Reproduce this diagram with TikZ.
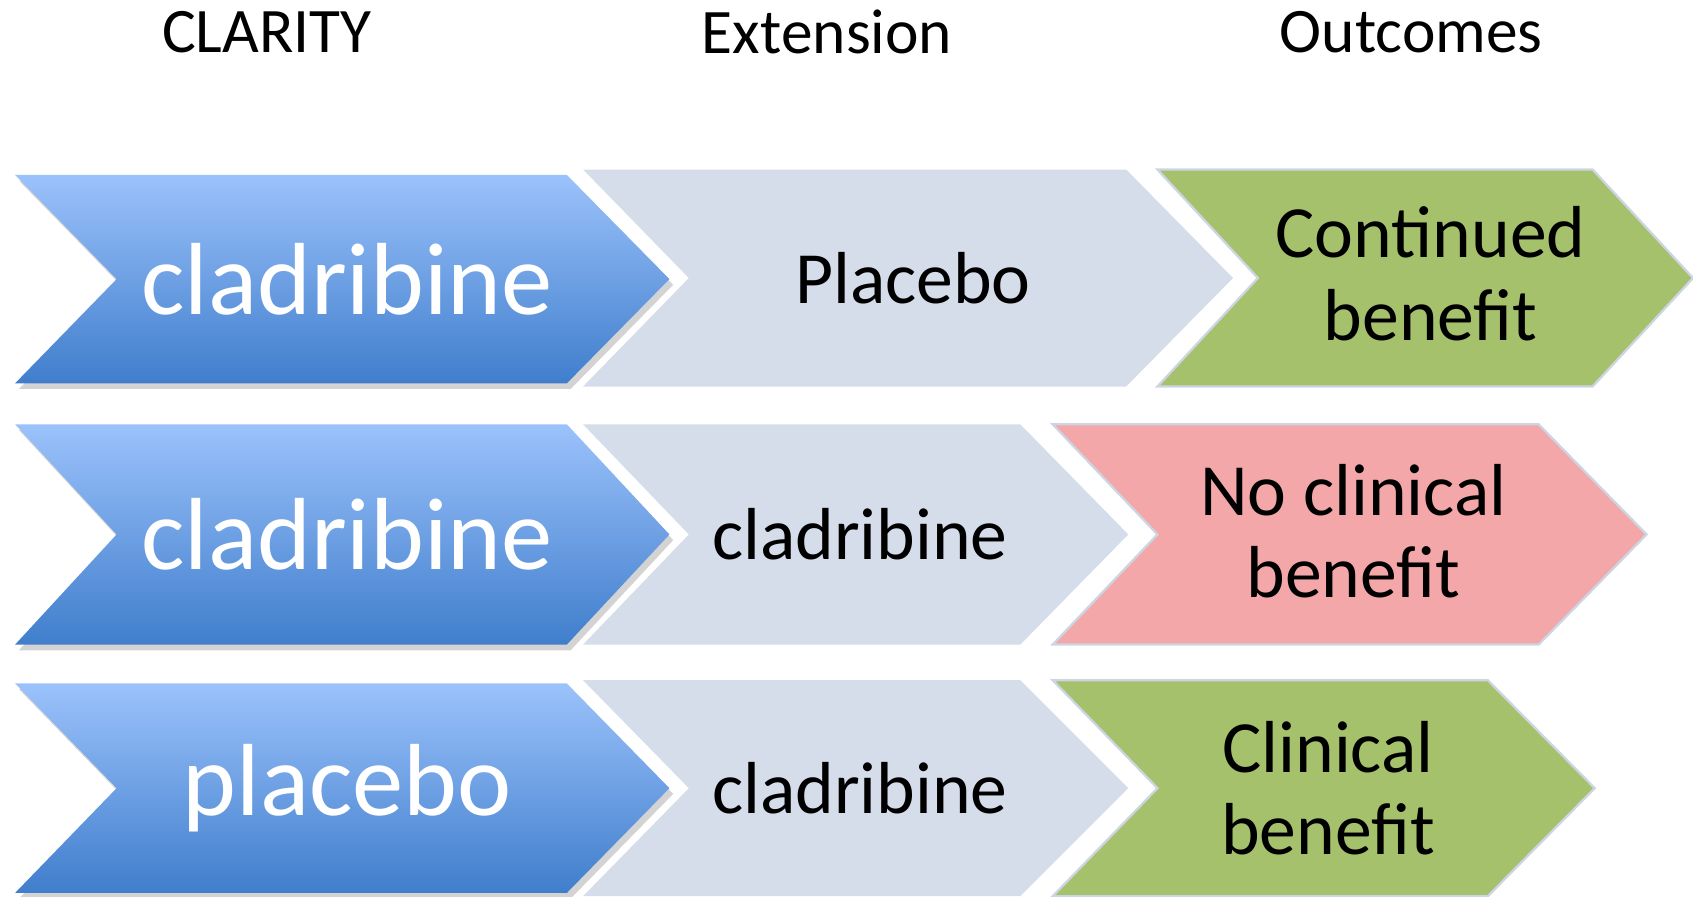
\documentclass[tikz,border=0pt]{standalone}
\usepackage{fontspec}
\setmainfont{Carlito}
\usepackage{xcolor}
\definecolor{bluetop}{RGB}{155, 194, 251}
\definecolor{bluebottom}{RGB}{64, 126, 204}
\definecolor{extgray}{RGB}{213, 220, 234}
\definecolor{goodgreen}{RGB}{165, 193, 108}
\definecolor{badpink}{RGB}{243, 167, 168}
\definecolor{rimgray}{RGB}{205, 213, 226}
\usepackage{tikz}
\usetikzlibrary{positioning, calc, shadows}
\tikzstyle{trial} = [top color=bluetop, bottom color=bluebottom, drop shadow={shadow xshift=1pt, shadow yshift=-1.5pt, opacity=0.35}]
\tikzstyle{ext} = [fill=extgray]
\tikzstyle{good} = [fill=goodgreen, draw=rimgray, line width=0.6pt]
\tikzstyle{bad} = [fill=badpink, draw=rimgray, line width=0.6pt]
\tikzstyle{head} = [font=\fontsize{16.7}{20}\selectfont, anchor=center]
\tikzstyle{big} = [font=\fontsize{27}{32}\selectfont, text=white, anchor=center]
\tikzstyle{small} = [font=\fontsize{19.4}{21.6}\selectfont, align=center, anchor=center]
% name, style, left, shoulder, tip, notch, top, bottom
\newcommand{\chev}[8]{%
  \path[#2] (#3,#7) -- (#4,#7) -- (#5,{(#7+#8)/2}) -- (#4,#8) -- (#3,#8) -- (#6,{(#7+#8)/2}) -- cycle;
  \coordinate (#1) at ({(#6+#4)/2+5},{(#7+#8)/2});}

\begin{document}
\begin{tikzpicture}[x=0.01cm, y=0.01cm]
    \useasboundingbox (0,0) rectangle (1568,830);

    \node[head] (clarity) at (247,800) {CLARITY};
    \node[head] (extension) at (766,800) {Extension};
    \node[head] (outcomes) at (1307,800) {Outcomes};

    % row 1
    \chev{a1}{trial}{14}{525}{620}{108}{668}{475}
    \chev{b1}{ext}{540}{1043}{1142}{638}{673}{472}
    \chev{c1}{good}{1072}{1475}{1568}{1165}{673}{472}
    % row 2
    \chev{a2}{trial}{14}{525}{620}{108}{437}{233}
    \chev{b2}{ext}{540}{945}{1045}{638}{437}{233}
    \chev{c2}{bad}{975}{1425}{1525}{1072}{437}{233}
    % row 3
    \chev{a3}{trial}{14}{525}{620}{108}{197}{3}
    \chev{b3}{ext}{540}{945}{1045}{638}{200}{0}
    \chev{c3}{good}{975}{1378}{1477}{1072}{200}{0}

    \node[big] (a1txt) at (a1) {cladribine};
    \node[small] (b1txt) at (b1) {Placebo};
    \node[small] (c1txt) at ($(c1)+(0,4)$) {Continued\\benefit};
    \node[big] (a2txt) at (a2) {cladribine};
    \node[small] (b2txt) at (b2) {cladribine};
    \node[small] (c2txt) at ($(c2)+(0,3)$) {No clinical\\benefit};
    \node[big] (a3txt) at (a3) {placebo};
    \node[small] (b3txt) at (b3) {cladribine};
    \node[small] (c3txt) at (c3) {Clinical\\benefit};
\end{tikzpicture}
\end{document}
